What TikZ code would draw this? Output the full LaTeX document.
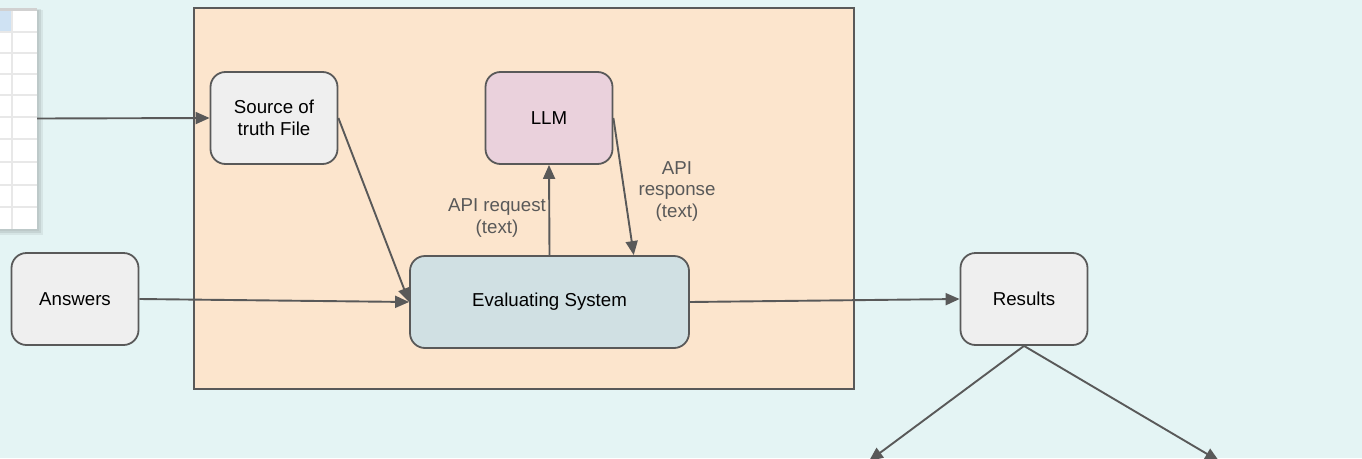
\documentclass[tikz,border=0pt]{standalone}
\usepackage{fontspec}
\setmainfont{Liberation Sans}
\usetikzlibrary{arrows.meta,positioning,shadows,calc}
\definecolor{bgcyan}   {RGB}{228,244,244}
\definecolor{evalpeach}{RGB}{252,229,205}
\definecolor{llmpink}  {RGB}{234,209,220}
\definecolor{evalblue} {RGB}{208,224,227}
\definecolor{boxgray}  {RGB}{239,239,239}
\definecolor{linegray} {RGB}{89,89,89}
\definecolor{gridgray} {RGB}{232,232,232}
\definecolor{cellblue} {RGB}{207,226,243}
\newcommand{\diafont}{\fontsize{18.7}{21.5}\selectfont}
\tikzset{
  mainbox/.style={draw=linegray, line width=1.8pt, rounded corners=15pt,
                  align=center, minimum width=#1, minimum height=92pt,
                  font=\diafont, inner sep=4pt, fill=boxgray},
  mainbox/.default=127pt,
  llmbox/.style ={mainbox, fill=llmpink},
  evalbox/.style={mainbox=279pt, fill=evalblue},
  framebox/.style={draw=linegray, line width=1.8pt, fill=evalpeach},
  lbl/.style    ={font=\diafont, text=linegray, align=center, inner sep=1pt},
  arr/.style    ={-{Triangle[length=14pt,width=12pt]}, line width=1.9pt, draw=linegray},
  gridline/.style={draw=gridgray, line width=1.6pt},
}

\begin{document}
\begin{tikzpicture}[x=1pt,y=-1pt]
  \useasboundingbox (0,0) rectangle (1362,458);
  \clip (0,0) rectangle (1362,458);
  \fill[bgcyan] (0,0) rectangle (1362,458);
  %% evaluation frame
  \draw[framebox] (194,8) rectangle (854,389);
  %% spreadsheet snippet
  \fill[black, opacity=0.06] (-13,10) rectangle (43,235);
  \fill[black, opacity=0.07] (-13,9) rectangle (41,233);
  \node[fill=white, minimum width=50pt, minimum height=221pt, inner sep=0pt,
        drop shadow={shadow xshift=1.5pt, shadow yshift=-2pt, opacity=0.12}] (sheet) at (12,118.5) {};
  \fill[gridgray!90!black] (-13,8) rectangle (37,11);
  \fill[cellblue] (-13,11) rectangle (12,32);
  \foreach \y in {32,53,74,95,117,139,162,185,207}
    \draw[gridline] (-13,\y) -- (37,\y);
  \draw[gridline] (12,11) -- (12,229);
  %% boxes
  \node[mainbox] (src) at (274,118) {Source of\\truth File};
  \node[llmbox] (llm) at (549,118) {LLM};
  \node[evalbox] (eval) at (549.5,302) {Evaluating System};
  \node[mainbox] (ans) at (75,299) {Answers};
  \node[mainbox] (res) at (1024,299) {Results};
  \node[lbl] (reqlbl) at (497,218) {API request\\(text)};
  \node[lbl] (resplbl) at (677,191) {API\\response\\(text)};
  %% connectors
  \coordinate (respin) at ($(eval.north west)!0.8!(eval.north east)$);
  \coordinate (outl) at (869,461);
  \coordinate (outr) at (1219,461);
  \draw[arr] (sheet.east) -- (src.west);
  \draw[arr] (src.east) -- (eval.west);
  \draw[arr] (ans.east) -- (eval.west);
  \draw[arr] (eval.north) -- (llm.south);
  \draw[arr] (llm.east) -- (respin);
  \draw[arr] (eval.east) -- (res.west);
  \draw[arr] (res.south) -- (outl);
  \draw[arr] (res.south) -- (outr);
\end{tikzpicture}
\end{document}
